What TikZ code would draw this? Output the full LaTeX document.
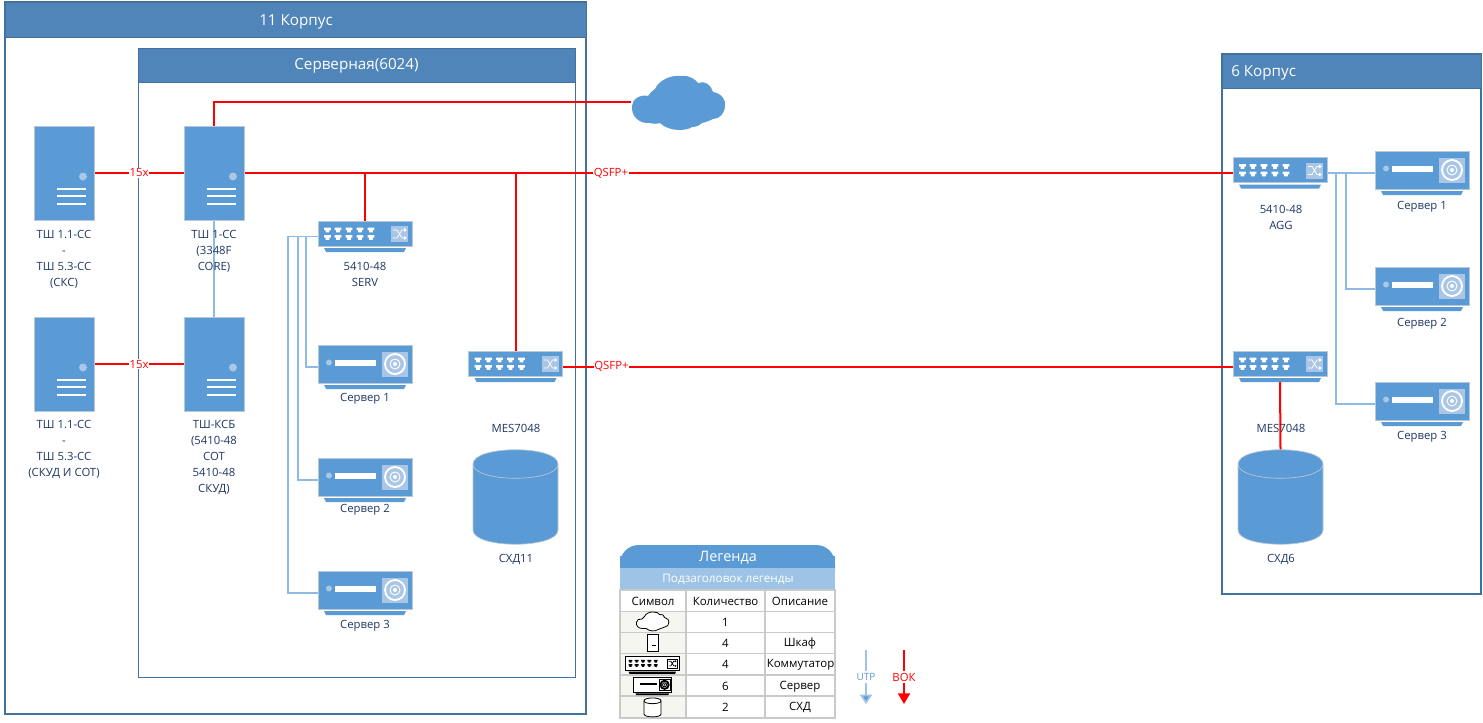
\documentclass[tikz,border=0pt]{standalone}
\usepackage{fontspec}
\setmainfont{Open Sans}
\usetikzlibrary{arrows.meta,calc}
\definecolor{bodyblue}{HTML}{5B9BD5}
\definecolor{headblue}{HTML}{5085BA}
\definecolor{edgeblue}{HTML}{41719C}
\definecolor{softblue}{HTML}{A9C6E6}
\definecolor{lineblue}{HTML}{8FBAE3}
\definecolor{subblue}{HTML}{9DC3E6}
\definecolor{edgegrey}{HTML}{B9C7D6}
\definecolor{inktext}{HTML}{1F3864}
\definecolor{cellgrey}{HTML}{C9C9C9}
\definecolor{cellbg}{HTML}{F6F6F0}
\pgfdeclarelayer{back}
\pgfdeclarelayer{conn}
\pgfsetlayers{back,conn,main}
\tikzset{
  x=0.75pt,y=-0.75pt,
  frame/.style={draw=edgeblue,fill=white,line width=1.5pt},
  roomframe/.style={draw=edgeblue,fill=white,line width=0.6pt},
  headbar/.style={draw=edgeblue,fill=headblue,line width=0.5pt},
  headtext/.style={text=white,font=\fontsize{11.4}{13}\selectfont,inner sep=0pt,yshift=-0.8pt},
  lab/.style={text=inktext,font=\fontsize{8.5}{12}\selectfont,align=center,inner sep=0pt,yshift=-1pt},
  foot/.style={inner sep=0pt,outer sep=0pt,minimum width=70.5pt},
  redline/.style={draw=red,line width=1.5pt},
  blueline/.style={draw=lineblue,line width=0.8pt},
  onred/.style={fill=white,text=red,font=\fontsize{8.5}{10}\selectfont,inner sep=0.4pt},
  legt/.style={text=black,font=\fontsize{8.6}{10}\selectfont,inner sep=0pt,yshift=-0.4pt},
}
\newcommand{\rackart}[3]{%
  \fill[#1,draw=#2,line width=0.6pt] (0,0) rectangle (60,94);
  \fill[#3] (49,50.5) ellipse (4 and 4);
  \foreach \yy in {63,70,78}{\draw[white,line width=1pt] (23,\yy) -- (52,\yy);}
}
\newcommand{\portrow}[2]{%
  \foreach \xx in {9.5,20,31,42,53}{%
    \fill[#2] (\xx-3.3,#1) -- (\xx+3.3,#1) -- (\xx+3.3,#1+2.6) -- (\xx+1.8,#1+2.6) -- (\xx+1.8,#1+4.8) -- (\xx-1.8,#1+4.8) -- (\xx-1.8,#1+2.6) -- (\xx-3.3,#1+2.6) -- cycle;}
}
\newcommand{\switchart}[5]{%
  \fill[#1,draw=#2,line width=0.6pt] (0,0) rectangle (94,25);
  \fill[#5] (6,27) -- (88,27) -- (86,31) -- (8,31) -- cycle;
  \portrow{6.5}{#3}\portrow{14}{#3}
  \fill[#4] (73,5) rectangle (90,21);
  \draw[#3,line width=0.55pt] (75,9) -- (79,9) -- (84,17) -- (88,17) (75,17) -- (79,17) -- (84,9) -- (88,9);
  \fill[#3] (88.8,9) -- (86,7) -- (86,11) -- cycle (88.8,17) -- (86,15) -- (86,19) -- cycle;
}
\newcommand{\serverart}[5]{%
  \fill[#1,draw=#2,line width=0.6pt] (0,0) rectangle (94,38);
  \fill[#5] (6,40) -- (88,40) -- (86,44) -- (8,44) -- cycle;
  \fill[#4] (11,17.5) ellipse (3 and 3);
  \fill[#3] (17,14.5) rectangle (58,20.5);
  \fill[#4] (64,6.5) rectangle (90,31.5);
  \draw[#3,line width=1.4pt] (77,19) ellipse (10 and 10);
  \draw[#3,line width=0.7pt] (77,19) ellipse (5 and 5);
  \fill[#3] (77,19) ellipse (2 and 2);
}
\newcommand{\cloudpath}{(19,47) .. controls (8,48) and (0,40) .. (1,30)
  .. controls (1,23) and (10,18) .. (17,20)
  .. controls (19,17) and (21,15) .. (24,13)
  .. controls (28,4) and (40,-1) .. (49,0)
  .. controls (58,-1) and (64,3) .. (67.5,7.3)
  .. controls (74,4) and (80,9) .. (82,16)
  .. controls (90,17) and (95,24) .. (94,29)
  .. controls (94,37) and (89,43) .. (82,43)
  .. controls (78,45) and (75,46) .. (71,47)
  .. controls (68,50) and (64,51) .. (61,51)
  .. controls (56,55) and (38,56) .. (29,47)
  .. controls (26,48) and (22,48) .. (19,47) -- cycle}
\newcommand{\cylpath}{(0,14) -- (0,80) .. controls (0,99) and (85,99) .. (85,80) -- (85,14) .. controls (85,-5) and (0,-5) .. (0,14) -- cycle}
\newcommand{\rackat}[3]{\node[foot,minimum width=45pt,minimum height=70.5pt] (#1) at (#2+30,#3+47) {};
  \begin{scope}[shift={(#2,#3)}]\rackart{bodyblue}{edgegrey}{softblue}\end{scope}}
\newcommand{\switchat}[3]{\node[foot,minimum height=23.25pt] (#1) at (#2+47,#3+15.5) {};
  \begin{scope}[shift={(#2,#3)}]\switchart{bodyblue}{edgegrey}{white}{softblue}{bodyblue}\end{scope}}
\newcommand{\serverat}[3]{\node[foot,minimum height=33pt] (#1) at (#2+47,#3+22) {};
  \begin{scope}[shift={(#2,#3)}]\serverart{bodyblue}{edgegrey}{white}{softblue}{bodyblue}\end{scope}}
\newcommand{\cylat}[3]{\node[foot,minimum width=63.75pt,minimum height=70.5pt] (#1) at (#2+42.5,#3+47) {};
  \begin{scope}[shift={(#2,#3)}]
  \fill[bodyblue,draw=edgegrey,line width=0.5pt] \cylpath;
  \draw[edgegrey,line width=0.5pt] (0,14) .. controls (0,33) and (85,33) .. (85,14);
  \end{scope}}
\begin{document}
\begin{tikzpicture}
\useasboundingbox (0,0) rectangle (1483,722);
\begin{pgfonlayer}{back}
  \fill[white] (0,0) rectangle (1483,722);
  \draw[frame] (5,2) rectangle (586,714);
  \draw[headbar] (5,2) rectangle (586,37);
  \draw[roomframe] (138,48) rectangle (575,677);
  \draw[headbar] (138,48) rectangle (575,82);
  \draw[frame] (1222,54) rectangle (1481,594);
  \draw[headbar] (1222,54) rectangle (1481,88);
\end{pgfonlayer}
\node[headtext] (t11) at (296,20.5) {11 Корпус};
\node[headtext] (troom) at (356.5,65) {Серверная(6024)};
\node[headtext,anchor=west] (t6) at (1231,71.5) {6 Корпус};

\rackat{r1}{34}{126}
\rackat{r2}{34}{317}
\rackat{core}{184}{126}
\rackat{ksb}{184}{317}
\switchat{serv}{318}{221}
\switchat{mesA}{468.5}{351}
\switchat{agg}{1233}{157.5}
\switchat{mesB}{1233}{351}
\serverat{sA}{318}{345}
\serverat{sB}{318}{458}
\serverat{sC}{318}{571}
\serverat{sD}{1375}{151}
\serverat{sE}{1375}{267}
\serverat{sF}{1375}{382}
\cylat{cylA}{473}{450}
\cylat{cylB}{1238}{450}
\node[foot,minimum height=39pt] (cloud) at (678,102) {};
\fill[bodyblue,shift={(631,76)}] \cloudpath;

\begin{pgfonlayer}{conn}
  \draw[blueline] (core.south) -- (ksb.north);
  \draw[blueline] (serv.west) -- ++(-12,0) |- (sA.west);
  \draw[blueline] (serv.west) -- ++(-20,0) |- (sB.west);
  \draw[blueline] (serv.west) -- ++(-30,0) |- (sC.west);
  \draw[blueline] (agg.east) -- (sD.west);
  \draw[blueline] (agg.east) -- ++(19,0) |- (sE.west);
  \draw[blueline] (agg.east) -- ++(9,0) |- (sF.west);
  \draw[redline] (core.north) |- (cloud.west);
  \draw[redline] (serv.north) -- (serv.north |- core.east);
  \draw[redline] (mesA.north) -- (mesA.north |- core.east);
  \draw[redline] (core.east) -- node[onred,pos=0.371] (qa) {QSFP+} (agg.west);
  \draw[redline] (mesA.east) -- node[onred,pos=0.073] (qb) {QSFP+} (mesB.west);
  \draw[redline] (mesB.south) -- (cylB.north);
  \draw[redline] (r1.east) -- node[onred,pos=0.5] (xa) {15x} (core.west);
  \draw[redline] (r2.east) -- node[onred,pos=0.5] (xb) {15x} (ksb.west);
\end{pgfonlayer}

\node[lab] (l1) at (64,258) {ТШ 1.1-СС\\-\\ТШ 5.3-СС\\(СКС)};
\node[lab] (l2) at (64,448) {ТШ 1.1-СС\\-\\ТШ 5.3-СС\\(СКУД И СОТ)};
\node[lab] (l3) at (214,250) {ТШ 1-СС\\(3348F\\CORE)};
\node[lab] (l4) at (214,456) {ТШ-КСБ\\(5410-48\\СОТ\\5410-48\\СКУД)};
\node[lab] (l5) at (365,273) {5410-48\\SERV};
\node[lab] (l6) at (365,397) {Сервер 1};
\node[lab] (l7) at (365,508) {Сервер 2};
\node[lab] (l8) at (365,624) {Сервер 3};
\node[lab] (l9) at (516,427) {MES7048};
\node[lab] (l10) at (516,558) {СХД11};
\node[lab] (l11) at (1281,216) {5410-48\\AGG};
\node[lab] (l12) at (1422,205) {Сервер 1};
\node[lab] (l13) at (1422,322) {Сервер 2};
\node[lab] (l14) at (1422,435) {Сервер 3};
\node[lab] (l15) at (1281,427) {MES7048};
\node[lab] (l16) at (1281,558) {СХД6};

% legend
\fill[bodyblue,rounded corners=14pt] (620,545) rectangle (835,590);
\fill[bodyblue] (620,556) rectangle (835,568);
\fill[subblue] (620,568) rectangle (835,590);
\fill[white] (620,590) rectangle (835,718);
\fill[cellbg] (620,611) rectangle (686,718);
\draw[cellgrey,line width=0.9pt] (620,590) rectangle (835,718)
  (686,590) -- (686,718) (765,590) -- (765,718)
  (620,611.5) -- (835,611.5) (620,632.5) -- (835,632.5) (620,653.5) -- (835,653.5)
  (620,675) -- (835,675) (620,696) -- (835,696);
\node[headtext,font=\fontsize{10.8}{13}\selectfont] (lg) at (728,556.5) {Легенда};
\node[legt,text=white,font=\fontsize{8.8}{10}\selectfont] (lgs) at (728,579) {Подзаголовок легенды};
\node[legt] (c1) at (653,601) {Символ};
\node[legt] (c2) at (725.5,601) {Количество};
\node[legt] (c3) at (800,601) {Описание};
\node[legt] (n1) at (725.5,622) {1};
\node[legt] (n2) at (725.5,643) {4};
\node[legt] (n3) at (725.5,664) {4};
\node[legt] (n4) at (725.5,686) {6};
\node[legt] (n5) at (725.5,707) {2};
\node[legt] (d2) at (800,643) {Шкаф};
\node[legt] (d3) at (800.5,664) {Коммутатор};
\node[legt] (d4) at (800,686) {Сервер};
\node[legt] (d5) at (800,707) {СХД};
\begin{scope}[shift={(636,612)},scale=0.35]
  \draw[fill=white,draw=black,line width=0.6pt] \cloudpath;
\end{scope}
\begin{scope}[shift={(647,634)},scale=0.185]
  \fill[white,draw=black,line width=0.5pt] (0,0) rectangle (60,94);
  \fill[black] (28,58) rectangle (50,66);
\end{scope}
\begin{scope}[shift={(625,656)},scale=0.58]
  \switchart{white}{black}{black}{white}{black}
  \draw[black,line width=0.5pt] (73,5) rectangle (90,21);
\end{scope}
\begin{scope}[shift={(633,677)},scale=0.41]
  \serverart{white}{black}{black}{white}{black}
  \draw[black,line width=0.5pt] (64,6.5) rectangle (90,31.5);
\end{scope}
\begin{scope}[shift={(644,698)},scale=0.2]
  \draw[fill=white,draw=black,line width=0.6pt] \cylpath;
  \draw[black,line width=0.6pt] (0,14) .. controls (0,33) and (85,33) .. (85,14);
\end{scope}
\coordinate (ua) at (866,650);
\coordinate (ub) at (866,704);
\coordinate (va) at (904,650);
\coordinate (vb) at (904,704);
\draw[draw=subblue,line width=1.3pt,-{Triangle[width=9pt,length=7pt,fill=bodyblue]}] (ua) -- node[fill=white,text=bodyblue,font=\fontsize{7.5}{9}\selectfont,inner sep=1.5pt,pos=0.5] (ut) {UTP} (ub);
\draw[draw=red,line width=1.5pt,-{Triangle[width=9pt,length=8pt,fill=red]}] (va) -- node[fill=white,text=red,font=\fontsize{8.5}{10}\selectfont,inner sep=1.5pt,pos=0.5] (vt) {ВОК} (vb);
\end{tikzpicture}
\end{document}
